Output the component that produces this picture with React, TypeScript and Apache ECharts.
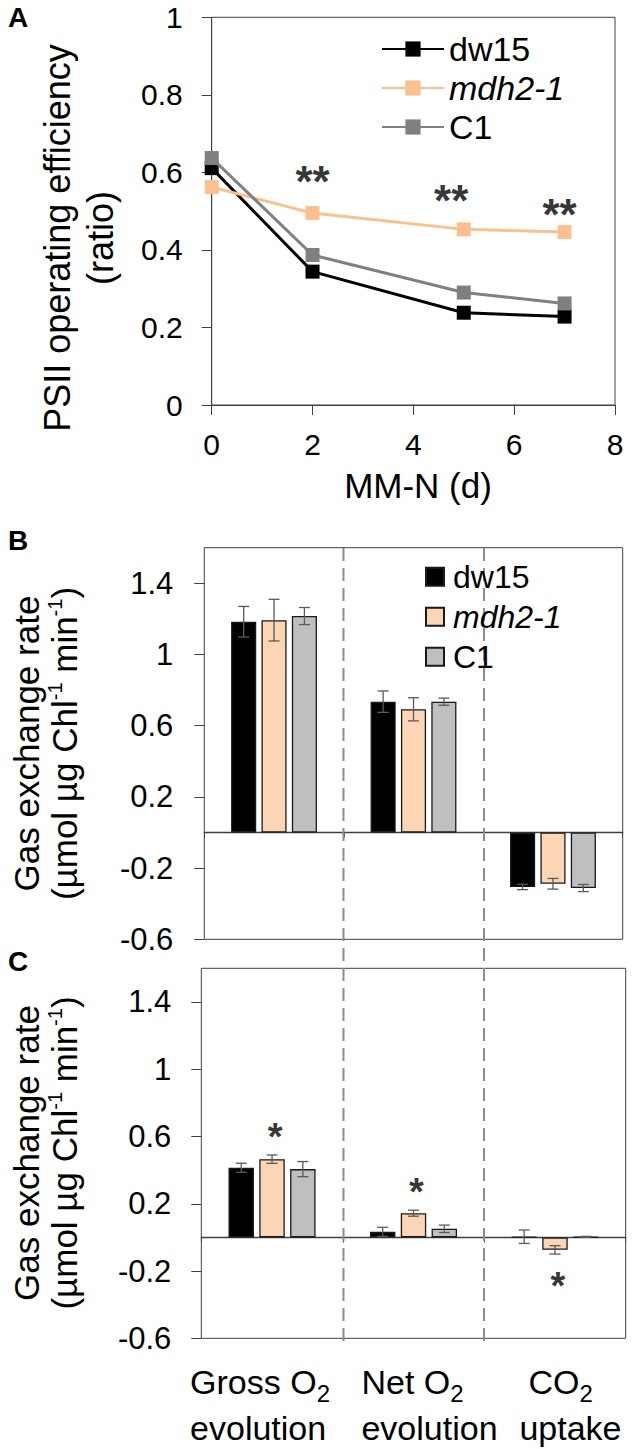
import { useEffect, useRef } from 'react';
import * as echarts from 'echarts';

const FONT = "'Liberation Sans', Arial, Helvetica, sans-serif";

// ---------- shared ----------
const genotypes = ['dw15', 'mdh2-1', 'C1'];
const lineColors = ['#000000', '#FAC090', '#808080'];
const barColors = ['#000000', '#FCD5B5', '#BFBFBF'];

// ---------- panel A : PSII operating efficiency ----------
const days = [0, 2, 5, 7];
const psiiDw15 = [0.611, 0.344, 0.238, 0.228];
const psiiMdh = [0.562, 0.495, 0.453, 0.446];
const psiiC1 = [0.637, 0.387, 0.29, 0.262];
const psiiSigDays = [2.0, 4.75, 6.9];
const psiiSigLevel = [0.576, 0.528, 0.492];

// ---------- panels B / C : gas exchange ----------
const processes = ['Gross O2 evolution', 'Net O2 evolution', 'CO2 uptake'];
const gasTicks = [-0.6, -0.2, 0.2, 0.6, 1, 1.4];

const lightDw15 = [1.184, 0.735, -0.306];
const lightDw15Err = [0.086, 0.06, 0.015];
const lightMdh = [1.193, 0.692, -0.288];
const lightMdhErr = [0.117, 0.065, 0.03];
const lightC1 = [1.216, 0.735, -0.312];
const lightC1Err = [0.048, 0.02, 0.02];

const nDw15 = [0.414, 0.033, 0.004];
const nDw15Err = [0.027, 0.027, 0.04];
const nMdh = [0.465, 0.144, -0.074];
const nMdhErr = [0.025, 0.018, 0.025];
const nC1 = [0.406, 0.051, 0.003];
const nC1Err = [0.045, 0.022, 0.003];
const nSigLevel = [0.596, 0.271, -0.287];

// ---------- layout ----------
const gridA = { left: 211.7, top: 17.3, width: 403.3, height: 387.7 };
const gridB = { left: 204.3, top: 547.7, width: 418.4, height: 391.6 };
const gridC = { left: 201.3, top: 968.3, width: 424.4, height: 370 };
const BAR_W = 0.18;
const BAR_GAP = 0.21;
const CAP = 5.5;
const AXIS_COLOR = '#404040';
const ERR_COLOR = '#5a5a5a';

const catRich = [
  '{t|Gross O}{s|2}\n{t|evolution}',
  '{t|Net O}{s|2}\n{t|evolution}',
  '{tp|CO}{s|2}\n{t|uptake}',
];
const catPad = [
  [0, 24, 0, 0],
  [0, 0, 0, 32],
  [0, 0, 0, 31],
];

function legendFmt(name: string) {
  const g = name.split('|')[0];
  return g === 'mdh2-1' ? `{i|${g}}` : `{n|${g}}`;
}

function errorSeries(name: string, xIdx: number, yIdx: number, vals: number[], errs: number[], slot: number) {
  return {
    type: 'custom',
    name,
    xAxisIndex: xIdx,
    yAxisIndex: yIdx,
    z: 5,
    silent: true,
    data: vals.map((v, i) => [i, v, errs[i]]),
    encode: { x: 0, y: 1 },
    renderItem: (_params: any, api: any) => {
      const i = api.value(0);
      const v = api.value(1);
      const e = api.value(2);
      const band = api.size([1, 0])[0];
      const bw = band * BAR_W;
      const step = bw * (1 + BAR_GAP);
      const c = api.coord([i, v]);
      const x = c[0] + (slot - 1) * step;
      const y1 = api.coord([i, v + e])[1];
      const y2 = api.coord([i, v - e])[1];
      const style = { stroke: ERR_COLOR, lineWidth: 1.3 };
      return {
        type: 'group',
        children: [
          { type: 'line', shape: { x1: x, y1, x2: x, y2 }, style },
          { type: 'line', shape: { x1: x - CAP, y1, x2: x + CAP, y2: y1 }, style },
          { type: 'line', shape: { x1: x - CAP, y1: y2, x2: x + CAP, y2 }, style },
        ],
      };
    },
  };
}

function barSeries(name: string, xIdx: number, yIdx: number, vals: number[], k: number) {
  return {
    type: 'bar',
    name,
    xAxisIndex: xIdx,
    yAxisIndex: yIdx,
    data: vals,
    barWidth: `${BAR_W * 100}%`,
    barGap: `${BAR_GAP * 100}%`,
    itemStyle: { color: barColors[k], borderColor: '#1a1a1a', borderWidth: 1.3 },
    z: 3,
  };
}

export default function App() {
  const ref = useRef<HTMLDivElement>(null);

  useEffect(() => {
    if (!ref.current) return;
    const chart = echarts.init(ref.current, undefined, { renderer: 'svg' });

    const valueYAxisBC = (gridIndex: number, margin: number) => ({
      type: 'value',
      gridIndex,
      min: -0.6,
      max: 1.6,
      axisLine: { show: false },
      splitLine: { show: false },
      axisTick: { show: true, length: 10, customValues: gasTicks, lineStyle: { color: AXIS_COLOR } },
      axisLabel: { customValues: gasTicks, fontSize: 31, color: '#000', margin, fontFamily: FONT },
    });

    const zeroXAxis = (gridIndex: number) => ({
      type: 'category',
      gridIndex,
      position: 'bottom',
      data: processes,
      axisLine: { show: true, onZero: true, lineStyle: { color: AXIS_COLOR, width: 1.3 } },
      axisTick: { show: true, length: 5, lineStyle: { color: AXIS_COLOR } },
      axisLabel: { show: false },
      splitLine: { show: false },
    });

    const option: any = {
      animation: false,
      textStyle: { fontFamily: FONT, color: '#000' },
      grid: [
        { ...gridA, show: true, borderColor: AXIS_COLOR, borderWidth: 1, containLabel: false, outerBoundsMode: 'none' },
        { ...gridB, show: true, borderColor: AXIS_COLOR, borderWidth: 1, containLabel: false, outerBoundsMode: 'none' },
        { ...gridC, show: true, borderColor: AXIS_COLOR, borderWidth: 1, containLabel: false, outerBoundsMode: 'none' },
      ],
      xAxis: [
        {
          type: 'value',
          gridIndex: 0,
          min: 0,
          max: 8,
          interval: 2,
          axisLine: { show: true, lineStyle: { color: AXIS_COLOR } },
          axisTick: { show: true, length: 10, lineStyle: { color: AXIS_COLOR } },
          axisLabel: { fontSize: 30, color: '#000', margin: 24, fontFamily: FONT },
          splitLine: { show: false },
        },
        zeroXAxis(1),
        zeroXAxis(2),
        {
          type: 'category',
          gridIndex: 2,
          position: 'bottom',
          data: processes.map((p, i) => ({ value: p, textStyle: { padding: catPad[i] } })),
          axisLine: { show: false, onZero: false },
          axisTick: { show: false },
          splitLine: { show: false },
          axisLabel: {
            interval: 0,
            margin: 21,
            color: '#000',
            fontFamily: FONT,
            formatter: (_v: string, idx: number) => catRich[idx],
            rich: {
              t: { fontSize: 34, lineHeight: 46, align: 'left', fontFamily: FONT, color: '#000' },
              tp: { fontSize: 34, lineHeight: 46, align: 'left', fontFamily: FONT, color: '#000', padding: [0, 0, 0, 9] },
              s: { fontSize: 24, lineHeight: 24, verticalAlign: 'bottom', align: 'left', fontFamily: FONT, color: '#000' },
            },
          },
        },
      ],
      yAxis: [
        {
          type: 'value',
          gridIndex: 0,
          min: 0,
          max: 1,
          interval: 0.2,
          axisLine: { show: true, lineStyle: { color: AXIS_COLOR } },
          axisTick: { show: true, length: 10, lineStyle: { color: AXIS_COLOR } },
          axisLabel: { fontSize: 30, color: '#000', margin: 29, fontFamily: FONT },
          splitLine: { show: false },
        },
        valueYAxisBC(1, 31),
        valueYAxisBC(2, 30),
      ],
      legend: [
        {
          orient: 'vertical',
          left: 381,
          top: 32,
          padding: 0,
          itemGap: 5,
          itemWidth: 62,
          itemHeight: 19,
          selectedMode: false,
          data: genotypes.map((g) => `${g}|A`),
          formatter: legendFmt,
          textStyle: {
            fontSize: 34,
            lineHeight: 34,
            color: '#000',
            fontFamily: FONT,
            rich: {
              n: { fontSize: 34, lineHeight: 34, fontFamily: FONT, color: '#000' },
              i: { fontSize: 34, lineHeight: 34, fontFamily: FONT, color: '#000', fontStyle: 'italic' },
            },
          },
        },
        {
          orient: 'vertical',
          left: 425,
          top: 560.7,
          padding: 0,
          itemGap: 8,
          itemWidth: 18,
          itemHeight: 18,
          icon: 'rect',
          selectedMode: false,
          data: genotypes.map((g) => `${g}|B`),
          formatter: legendFmt,
          textStyle: {
            fontSize: 32,
            lineHeight: 32,
            color: '#000',
            fontFamily: FONT,
            rich: {
              n: { fontSize: 32, lineHeight: 32, fontFamily: FONT, color: '#000', padding: [0, 0, 0, 4] },
              i: { fontSize: 32, lineHeight: 32, fontFamily: FONT, color: '#000', fontStyle: 'italic', padding: [0, 0, 0, 4] },
            },
          },
        },
      ],
      series: [
        ...[psiiDw15, psiiMdh, psiiC1].map((vals, k) => ({
          type: 'line',
          name: `${genotypes[k]}|A`,
          xAxisIndex: 0,
          yAxisIndex: 0,
          data: days.map((d, i) => [d, vals[i]]),
          symbol: 'rect',
          symbolSize: 14,
          lineStyle: { color: lineColors[k], width: 3 },
          itemStyle: { color: lineColors[k] },
          z: 3 + k,
        })),
        {
          type: 'scatter',
          name: 'sigA',
          xAxisIndex: 0,
          yAxisIndex: 0,
          data: psiiSigDays.map((d, i) => [d, psiiSigLevel[i]]),
          symbolSize: 1,
          itemStyle: { color: 'rgba(0,0,0,0)' },
          label: {
            show: true,
            position: 'inside',
            formatter: '**',
            fontSize: 44,
            fontWeight: 'bold',
            color: '#000',
            fontFamily: FONT,
          },
          z: 10,
        },
        // panel B
        barSeries('dw15|B', 1, 1, lightDw15, 0),
        barSeries('mdh2-1|B', 1, 1, lightMdh, 1),
        barSeries('C1|B', 1, 1, lightC1, 2),
        errorSeries('errB0', 1, 1, lightDw15, lightDw15Err, 0),
        errorSeries('errB1', 1, 1, lightMdh, lightMdhErr, 1),
        errorSeries('errB2', 1, 1, lightC1, lightC1Err, 2),
        // panel C
        barSeries('dw15|C', 3, 2, nDw15, 0),
        barSeries('mdh2-1|C', 3, 2, nMdh, 1),
        barSeries('C1|C', 3, 2, nC1, 2),
        errorSeries('errC0', 3, 2, nDw15, nDw15Err, 0),
        errorSeries('errC1', 3, 2, nMdh, nMdhErr, 1),
        errorSeries('errC2', 3, 2, nC1, nC1Err, 2),
        {
          type: 'scatter',
          name: 'sigC',
          xAxisIndex: 3,
          yAxisIndex: 2,
          data: nSigLevel,
          symbolSize: 1,
          itemStyle: { color: 'rgba(0,0,0,0)' },
          label: {
            show: true,
            position: 'inside',
            formatter: '*',
            offset: [3, 0],
            fontSize: 38,
            fontWeight: 'bold',
            color: '#000',
            fontFamily: FONT,
          },
          z: 10,
        },
      ],
      graphic: [
        { type: 'text', x: 8, y: 17, style: { text: 'A', fontSize: 28, fontWeight: 'bold', fontFamily: FONT, fill: '#000', align: 'left', verticalAlign: 'middle' } },
        { type: 'text', x: 8, y: 540, style: { text: 'B', fontSize: 28, fontWeight: 'bold', fontFamily: FONT, fill: '#000', align: 'left', verticalAlign: 'middle' } },
        { type: 'text', x: 8, y: 961, style: { text: 'C', fontSize: 28, fontWeight: 'bold', fontFamily: FONT, fill: '#000', align: 'left', verticalAlign: 'middle' } },
        {
          type: 'text',
          x: 78.5,
          y: 238,
          rotation: Math.PI / 2,
          style: {
            text: 'PSII operating efficiency\n(ratio)',
            fontSize: 36,
            lineHeight: 43,
            fontFamily: FONT,
            fill: '#000',
            align: 'center',
            verticalAlign: 'middle',
          },
        },
        {
          type: 'text',
          x: 418,
          y: 485,
          style: { text: 'MM-N (d)', fontSize: 35, fontFamily: FONT, fill: '#000', align: 'center', verticalAlign: 'middle' },
        },
        ...[743.5, 1153].map((cy) => ({
          type: 'text',
          x: 45,
          y: cy,
          rotation: Math.PI / 2,
          style: {
            text: '{t|Gas exchange rate}\n{t|(µmol µg Chl}{u|-1}{t| min}{u|-1}{t|)}',
            align: 'center',
            verticalAlign: 'middle',
            fontFamily: FONT,
            fill: '#000',
            rich: {
              t: { fontSize: 35, lineHeight: 38, fontFamily: FONT, fill: '#000' },
              u: { fontSize: 20, lineHeight: 20, verticalAlign: 'top', fontFamily: FONT, fill: '#000' },
            },
          },
        })),
        ...[343.5, 484].map((x) => ({
          type: 'line',
          shape: { x1: x, y1: 548, x2: x, y2: 1342 },
          style: { stroke: '#8c8c8c', lineWidth: 2, lineDash: [13, 7] },
          z: 1,
        })),
      ],
    };

    chart.setOption(option);
    return () => chart.dispose();
  }, []);

  return (
    <div
      ref={ref}
      style={{ position: 'absolute', left: 0, top: 0, width: 640, height: 1449, background: '#fff' }}
    />
  );
}
